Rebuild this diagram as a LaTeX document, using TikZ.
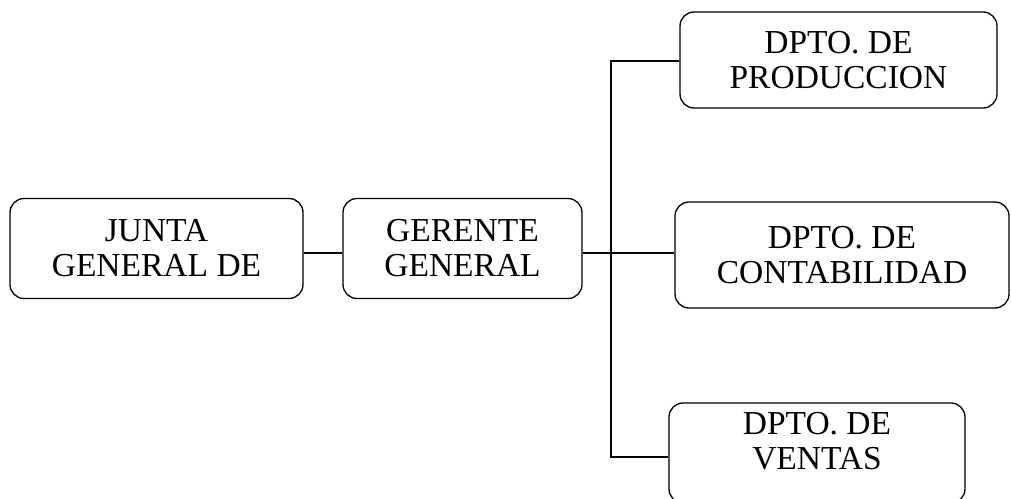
\documentclass[tikz,border=0pt]{standalone}
\usepackage{fontspec}
\setmainfont{Liberation Serif}

\begin{document}
\begin{tikzpicture}[x=1pt, y=-1pt,
    caja/.style={draw, line width=1.3pt, rounded corners=14pt, align=center,
        inner sep=0pt, font=\fontsize{33.5}{35}\selectfont},
    linea/.style={line width=1.3pt}]

\useasboundingbox (0,0) rectangle (1011,498);

\node[caja, minimum width=293, minimum height=100] (junta) at (156.5,248.5) {JUNTA\\GENERAL DE};
\node[caja, minimum width=239, minimum height=100] (gerente) at (462.5,248.5) {GERENTE\\GENERAL};
\node[caja, minimum width=317, minimum height=96] (prod) at (838.5,60) {DPTO. DE\\PRODUCCION};
\node[caja, minimum width=334, minimum height=106] (conta) at (842,255) {DPTO. DE\\CONTABILIDAD};
\node[caja, minimum width=296, minimum height=100,
    label={[font=\fontsize{33.5}{35}\selectfont, align=center, yshift=11.5pt]center:DPTO. DE\\VENTAS}] (vent) at (817,453) {};

\coordinate (tronco) at (611,253);

\draw[linea] (junta.east |- tronco) -- (gerente.west |- tronco);
\draw[linea] (gerente.east |- tronco) -- (conta.west |- tronco);
\draw[linea] (prod.west |- 0,61) -| (tronco |- 0,61) -- (tronco |- 0,457) -- (vent.west |- 0,457);

\end{tikzpicture}
\end{document}
